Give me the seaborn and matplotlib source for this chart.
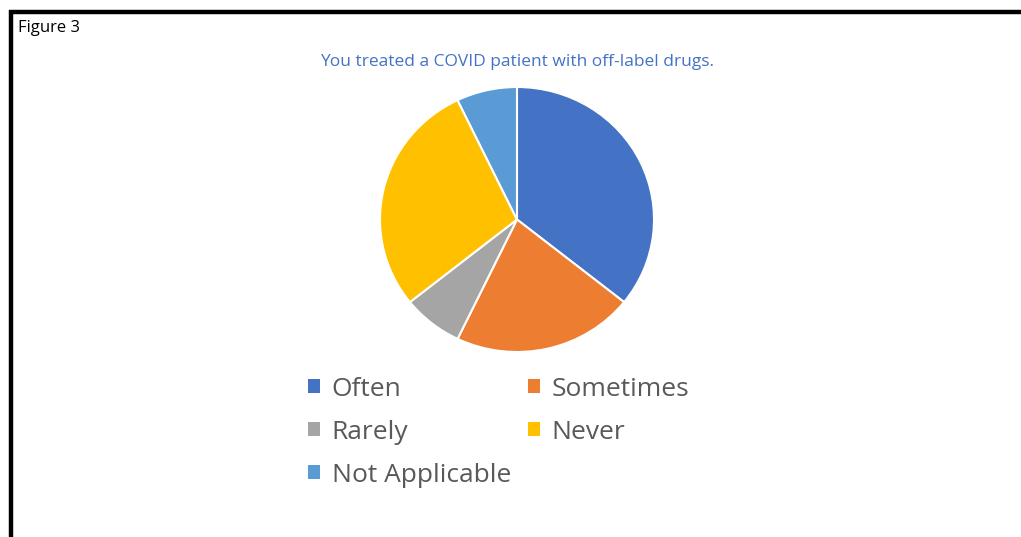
import matplotlib
matplotlib.use("Agg")
import matplotlib.pyplot as plt
from matplotlib.lines import Line2D
from matplotlib.patches import Patch
import seaborn as sns

# Survey responses (counts)
categories = ["Often", "Sometimes", "Rarely", "Never", "Not Applicable"]
counts = [5, 3, 1, 4, 1]
colors = ["#4472C4", "#ED7D31", "#A5A5A5", "#FFC000", "#5B9BD5"]
title = "You treated a COVID patient with off-label drugs."

sns.set_theme(style="white")
plt.rcParams['font.family'] = ['Open Sans', 'DejaVu Sans']
palette = sns.color_palette(colors)

W, H = 1021, 537
fig = plt.figure(figsize=(W / 100, H / 100), dpi=100)

# pie axes placed by pixel centre / radii (source is slightly stretched)
cx, cy, rx, ry = 517, 219.5, 137, 132.5
ax = fig.add_axes([(cx - rx) / W, 1 - (cy + ry) / H, 2 * rx / W, 2 * ry / H])
ax.pie(counts, colors=palette, startangle=90, counterclock=False,
       wedgeprops=dict(edgecolor="white", linewidth=1.5))
ax.set_xlim(-1, 1)
ax.set_ylim(-1, 1)
ax.set_aspect("auto")
ax.axis("off")

fig.text(517 / W, 1 - 62 / H, title, ha="center", va="center",
         fontsize=12.5, color="#4472C4")
fig.text(18 / W, 1 - 28 / H, "Figure 3", ha="left", va="center",
         fontsize=12, color="black")

# legend, column-major order so rows read Often/Sometimes, Rarely/Never, ...
order = [0, 2, 4, 1, 3]
handles = [Patch(facecolor=palette[i], edgecolor="none", label=categories[i]) for i in order]
fig.legend(handles=handles, ncol=2, loc="upper left",
           bbox_to_anchor=(284 / W, 1 - 353 / H), frameon=False,
           fontsize=19, handlelength=0.45, handleheight=0.45,
           handletextpad=0.45, columnspacing=0.65, labelspacing=0.68,
           labelcolor="#595959")

# border lines (top and left)
fig.add_artist(Line2D([9 / W, 1], [1 - 12 / H, 1 - 12 / H], color="black",
                      linewidth=3.2, solid_capstyle="butt", transform=fig.transFigure))
fig.add_artist(Line2D([11 / W, 11 / W], [1 - 10 / H, 0], color="black",
                      linewidth=3.2, solid_capstyle="butt", transform=fig.transFigure))

fig.savefig("out.png", dpi=100)
